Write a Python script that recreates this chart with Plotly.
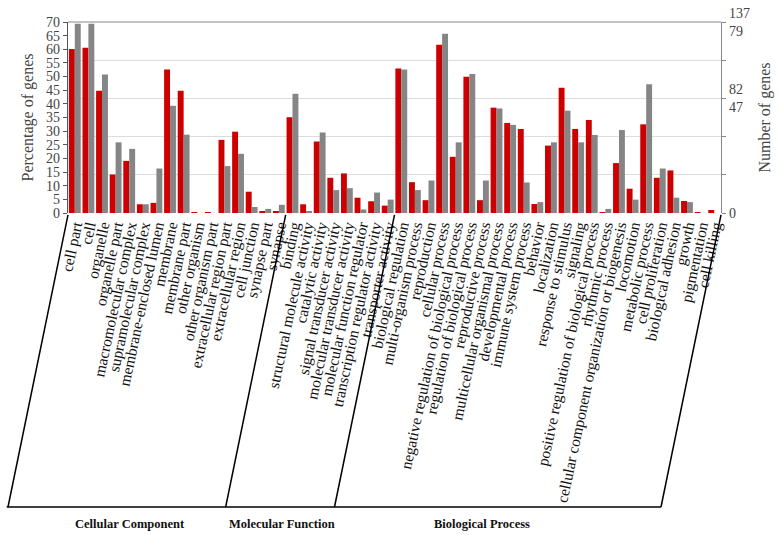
import plotly.graph_objects as go

# ---------------- data ----------------
cc_terms = ["cell part", "cell", "organelle", "organelle part", "macromolecular complex",
            "supramolecular complex", "membrane-enclosed lumen", "membrane", "membrane part",
            "other organism", "other organism part", "extracellular region part",
            "extracellular region", "cell junction", "synapse part", "synapse"]
mf_terms = ["binding", "structural molecule activity", "catalytic activity",
            "signal transducer activity", "molecular transducer activity",
            "molecular function regulator", "transcription regulator activity",
            "transporter activity"]
bp_terms = ["biological regulation", "multi-organism process", "reproduction",
            "cellular process", "negative regulation of biological process",
            "regulation of biological process", "reproductive process",
            "multicellular organismal process", "developmental process",
            "immune system process", "behavior", "localization", "response to stimulus",
            "signaling", "positive regulation of biological process", "rhythmic process",
            "cellular component organization or biogenesis", "locomotion",
            "metabolic process", "cell proliferation", "biological adhesion", "growth",
            "pigmentation", "cell killing"]

red_pct = [60.1, 60.6, 44.8, 14.1, 19.1, 3.2, 3.7, 52.6, 44.8, 0.3, 0.3, 26.8, 29.8, 7.8, 0.6, 0.6,
           35.1, 3.2, 26.2, 12.9, 14.5, 5.6, 4.3, 2.7,
           53.0, 11.3, 4.7, 61.7, 20.6, 49.9, 4.7, 38.6, 33.0, 30.8, 3.3, 24.7, 45.9, 30.8,
           34.1, 0.2, 18.3, 8.9, 32.5, 12.9, 15.6, 4.4, 0.2, 1.1]
gray_pct = [69.4, 69.4, 50.8, 25.9, 23.5, 3.2, 16.3, 39.3, 28.7, 0.0, 0.0, 17.2, 21.7, 2.2, 1.5, 3.0,
            43.7, 0.5, 29.5, 8.4, 9.1, 1.3, 7.5, 4.9,
            52.6, 8.4, 11.9, 65.7, 25.9, 50.9, 11.9, 38.3, 32.3, 11.2, 4.0, 25.9, 37.5, 25.9,
            28.6, 1.5, 30.4, 4.9, 47.2, 16.3, 5.6, 4.0, 0.0, 0.0]

group_names = ["Cellular Component", "Molecular Function", "Biological Process"]
group_terms = [cc_terms, mf_terms, bp_terms]

left_ticks = list(range(0, 71, 5))
right_tickvals = [0, 14, 28, 42, 56, 70]
right_ticktext = ["0", "", "", "82<br>47", "", "137<br>79"]

# ---------------- figure ----------------
categories = cc_terms + mf_terms + bp_terms
FONT = "Liberation Serif"

W, H = 780, 535
L, R, T, B = 68, 59, 22, 322
pw, ph = W - L - R, H - T - B

fig = go.Figure()
fig.add_trace(go.Bar(x=categories, y=red_pct, marker=dict(color="#cc0000", line=dict(width=0)),
                     name="red", yaxis="y"))
fig.add_trace(go.Bar(x=categories, y=gray_pct, marker=dict(color="#858585", line=dict(width=0)),
                     name="gray", yaxis="y"))
# invisible trace to activate right axis
fig.add_trace(go.Scatter(x=[categories[0]], y=[0], yaxis="y2", mode="markers",
                         marker=dict(opacity=0), showlegend=False, hoverinfo="skip"))

shapes = []
# top border
shapes.append(dict(type="line", xref="paper", yref="paper", x0=0, x1=1, y0=1, y1=1,
                   line=dict(color="#888888", width=1.2)))

# group brackets
n = len(categories)
slant = -60 / pw           # horizontal shift of bottom end (paper units)
y_bot = (-(507 - (T + ph))) / ph
bounds = [0]
for g in group_terms:
    bounds.append(bounds[-1] + len(g))
for b in bounds:
    xp = b / n
    shapes.append(dict(type="line", xref="paper", yref="paper", x0=xp, y0=-0.01,
                       x1=xp + slant, y1=y_bot, line=dict(color="black", width=1.5)))
shapes.append(dict(type="line", xref="paper", yref="paper", x0=bounds[0] / n + slant - 0.002,
                   y0=y_bot, x1=bounds[-1] / n + slant, y1=y_bot,
                   line=dict(color="black", width=1.5)))

label_px = [130, 282, 482]
annotations = []
for name, px in zip(group_names, label_px):
    annotations.append(dict(text="<b>" + name + "</b>", xref="paper", yref="paper",
                            x=(px - L) / pw, y=(-(524 - (T + ph))) / ph,
                            showarrow=False, xanchor="center", yanchor="middle",
                            font=dict(family=FONT, size=12.5, color="#111111")))

fig.update_layout(
    width=W, height=H,
    margin=dict(l=L, r=R, t=T, b=B, autoexpand=False),
    paper_bgcolor="white", plot_bgcolor="white",
    barmode="group", bargap=0.13, bargroupgap=0.0,
    showlegend=False,
    font=dict(family=FONT, size=14, color="#222222"),
    shapes=shapes, annotations=annotations,
    xaxis=dict(type="category", tickangle=-78, showgrid=False, showline=False,
               tickmode="array", tickvals=categories, ticktext=categories,
               ticks="", tickfont=dict(family=FONT, size=15.5, color="#111111"),
               range=[-0.5, n - 0.5], automargin=False),
    yaxis=dict(range=[0, 70], tickvals=left_ticks, showgrid=False, showline=True,
               linecolor="#555555", linewidth=1.2, ticks="outside", ticklen=4,
               tickcolor="#555555", tickfont=dict(family=FONT, size=14, color="#444444"),
               title=dict(text="Percentage of genes", standoff=8,
                          font=dict(family=FONT, size=16, color="#444444")),
               zeroline=False, automargin=False),
    yaxis2=dict(range=[0, 70], overlaying="y", side="right", tickvals=right_tickvals,
                ticktext=right_ticktext, showgrid=True, gridcolor="#dcdcdc", gridwidth=1,
                showline=True, linecolor="#888888", linewidth=1.2, ticks="outside",
                ticklen=4, tickcolor="#888888",
                tickfont=dict(family=FONT, size=14, color="#444444"),
                title=dict(text="Number of genes", standoff=9,
                           font=dict(family=FONT, size=16, color="#444444")),
                zeroline=False, automargin=False, layer="below traces"),
)

fig.write_html("out.html", config={"displayModeBar": False},
               post_script="document.body.style.margin='0px';")
